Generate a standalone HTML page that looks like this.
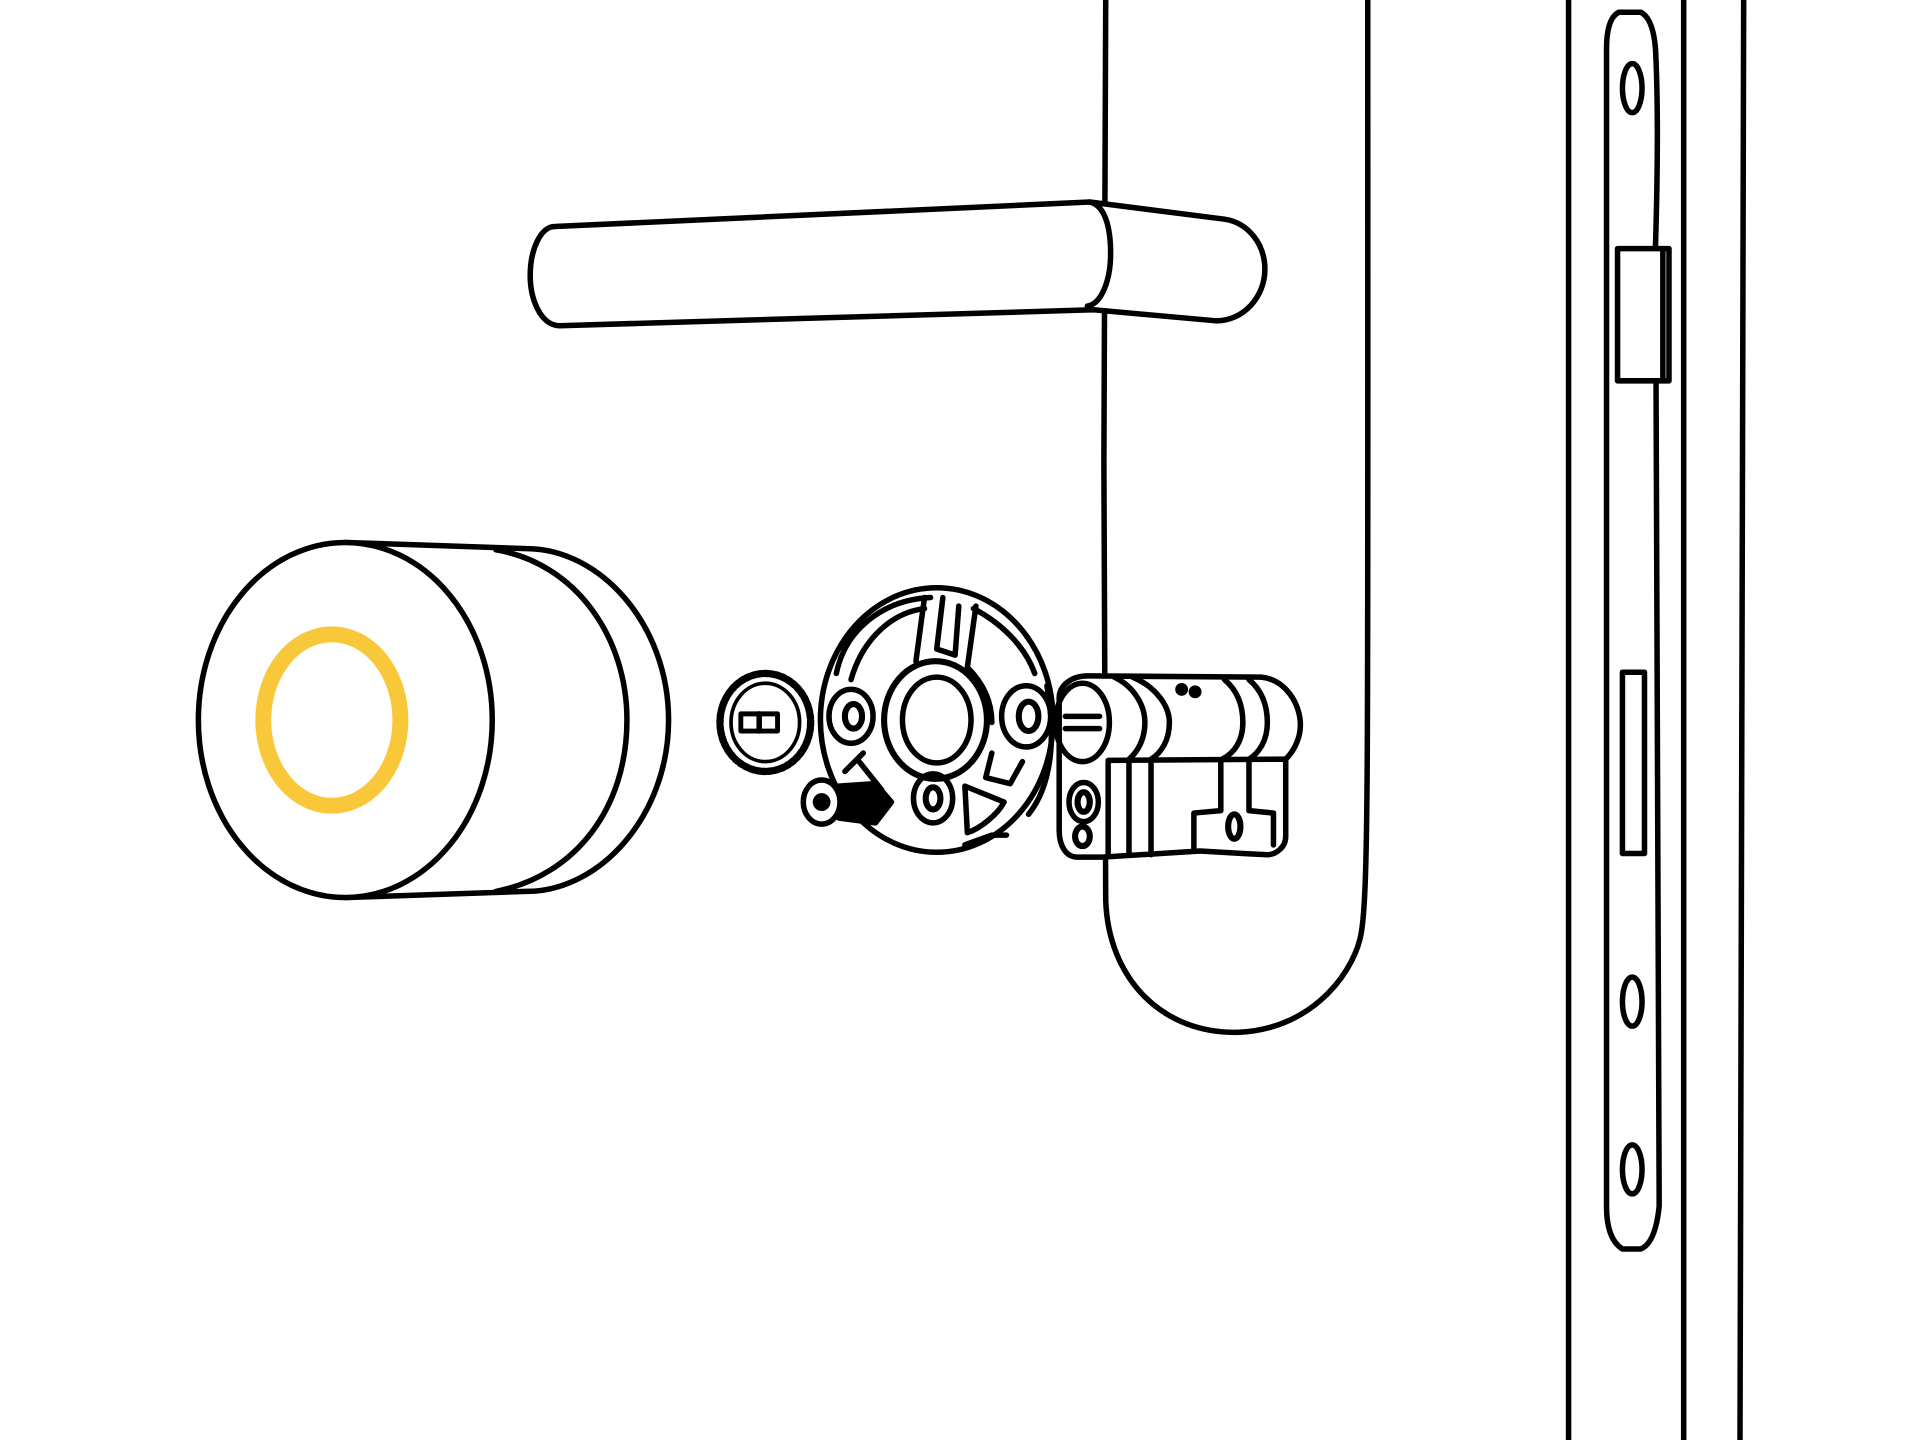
<!DOCTYPE html>
<html><head><meta charset="utf-8"><style>html,body{margin:0;padding:0;background:#fff}svg{display:block}</style></head>
<body>
<svg width="1920" height="1440" viewBox="0 0 1568 1176" xmlns="http://www.w3.org/2000/svg" fill="none" stroke="#000" stroke-width="4.5" stroke-linejoin="round" stroke-linecap="round">
<rect x="0" y="0" width="1568" height="1176" fill="#fff" stroke="none"/>
<line x1="1281" y1="0" x2="1281" y2="1176"/>
<line x1="1375" y1="0" x2="1375" y2="1176"/>
<line x1="1424" y1="0" x2="1421" y2="1176"/>
<path d="M1312,40 Q1312,15 1322,10 L1340,10 Q1350,15 1352,40 Q1355,100 1352,200 L1355,985 Q1352,1015 1340,1020 L1325,1020 Q1312,1012 1312,985 Z" fill="#fff"/>
<ellipse cx="1333" cy="72" rx="8" ry="20"/>
<ellipse cx="1333" cy="818" rx="8" ry="20"/>
<ellipse cx="1333" cy="955" rx="8" ry="20"/>
<path d="M1321,203 L1363,203 L1363,311 L1321,311 Z" fill="#fff"/>
<line x1="1358" y1="205" x2="1358" y2="310"/>
<rect x="1325" y="549" width="18" height="148" fill="#fff"/>
<path d="M903,0 C901,80 901,600 903,735 C905,800 950,845 1012,843 C1075,840 1108,790 1112,760 C1118,720 1117,600 1117,0"/>
<path d="M453,185 L890,165 L1000,179 C1020,182 1033,200 1033,220 C1033,242 1016,262 993,262 L893,253 L457,266 C442,266 433,245 433,225 C433,203 442,185 453,185 Z" fill="#fff"/>
<path d="M890,165 C904,168 907,190 907,207 C907,228 900,248 888,250"/>
<path d="M282,443 L430,448 C490,448 546,510 546,588 C546,666 490,728 430,728 L282,733" fill="#fff"/>
<path d="M405,449 C470,460 512,520 512,588 C512,660 470,715 405,728"/>
<ellipse cx="282" cy="588" rx="120" ry="145" fill="#fff"/>
<ellipse cx="271" cy="588" rx="56" ry="70" stroke="#f8c83a" stroke-width="13"/>
<ellipse cx="625" cy="590" rx="37" ry="40" stroke-width="6" stroke-dasharray="3 2"/>
<ellipse cx="625" cy="590" rx="28" ry="32" stroke-width="3"/>
<rect x="605" y="583" width="30" height="14" stroke-width="4"/>
<line x1="620" y1="583" x2="620" y2="597"/>
<ellipse cx="765" cy="588" rx="95" ry="108" fill="#fff"/>
<path d="M683,550 C690,515 720,490 760,488" />
<path d="M695,555 C705,520 730,500 755,497"/>
<path d="M795,497 C820,510 838,530 845,550"/>
<path d="M755,488 L748,540 M770,488 L765,530 L780,535 L783,495 M797,495 L790,545 C805,560 810,575 810,590"/>
<ellipse cx="764" cy="588" rx="42" ry="48" stroke-width="5"/>
<ellipse cx="765" cy="588" rx="28" ry="35"/>
<ellipse cx="695" cy="585" rx="18" ry="22"/>
<ellipse cx="697" cy="585" rx="7" ry="10" stroke-width="5"/>
<ellipse cx="838" cy="585" rx="20" ry="25"/>
<ellipse cx="840" cy="585" rx="8" ry="12" stroke-width="5"/>
<ellipse cx="762" cy="652" rx="16" ry="20"/>
<ellipse cx="762" cy="652" rx="6" ry="9" stroke-width="5"/>
<path d="M788,642 L820,655 C815,665 800,677 790,680 Z"/>
<path d="M810,615 L805,635 L825,640 L835,622"/>
<ellipse cx="671" cy="655" rx="15" ry="18" fill="#fff"/>
<circle cx="671" cy="655" r="5" fill="#000"/>
<path d="M685,642 L715,640 L728,655 L715,672 L685,668" fill="#000"/>
<path d="M700,620 L720,645 M690,630 L705,615"/>
<path d="M788,690 L810,682 L822,682 M855,560 C862,600 860,640 840,665"/>
<path d="M865,570 C865,560 875,552 888,552 L1030,553 C1050,555 1062,575 1062,592 C1062,605 1055,615 1050,620 L1050,683 C1050,692 1042,698 1035,698 L1015,697 L980,695 L900,700 L880,700 C870,700 865,690 865,678 Z" fill="#fff"/>
<ellipse cx="884" cy="590" rx="22" ry="32"/>
<line x1="870" y1="585" x2="898" y2="585"/><line x1="870" y1="595" x2="898" y2="595"/>
<path d="M910,553 C925,560 935,575 935,590 C935,605 928,615 922,620"/>
<path d="M925,553 C942,560 955,575 955,590 C955,605 948,615 940,620"/>
<path d="M1000,555 C1012,565 1015,578 1015,590 C1015,605 1008,615 998,620"/>
<path d="M1020,555 C1032,565 1035,578 1035,590 C1035,605 1028,615 1020,620"/>
<path d="M905,621 L1050,620"/>
<path d="M905,622 L905,698 M922,622 L922,698 M940,622 L940,698"/>
<path d="M997,622 L997,662 L975,664 L975,695 M1020,622 L1020,662 L1040,664 L1040,690"/>
<ellipse cx="1008" cy="675" rx="5" ry="10" stroke-width="5"/>
<ellipse cx="885" cy="655" rx="12" ry="16"/>
<ellipse cx="885" cy="655" rx="5" ry="8" stroke-width="5"/>
<ellipse cx="884" cy="683" rx="6" ry="8" stroke-width="5"/>
<circle cx="965" cy="563" r="3" fill="#000"/><circle cx="976" cy="565" r="3" fill="#000"/>
</svg>
</body></html>
